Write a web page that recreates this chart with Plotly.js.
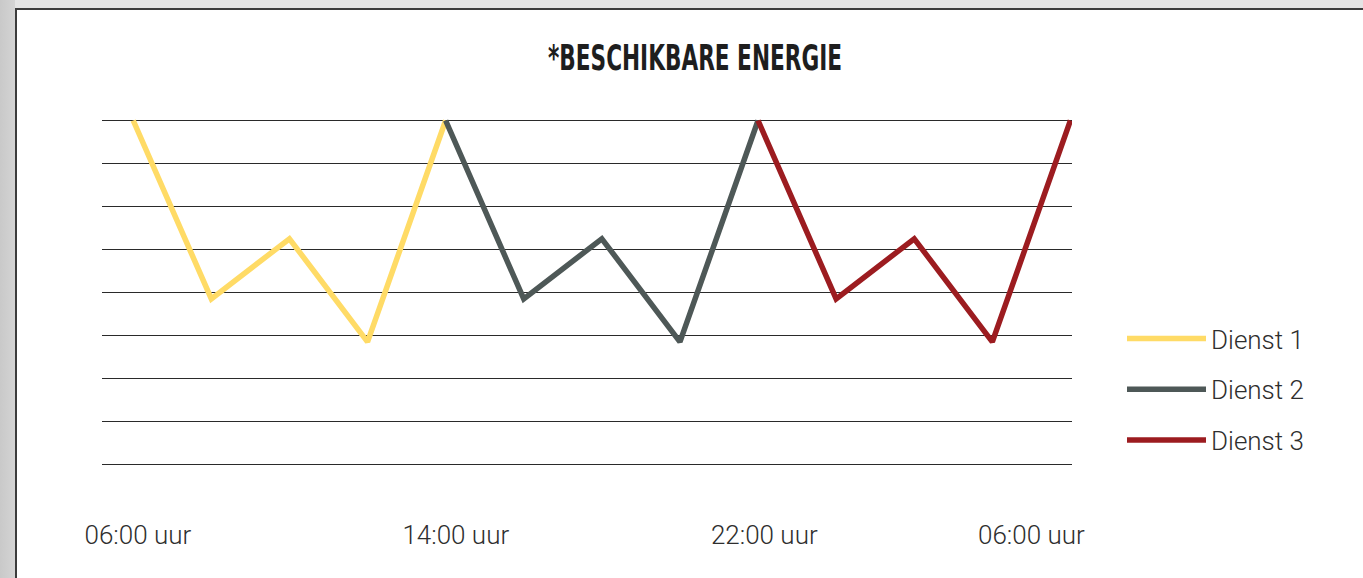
<!DOCTYPE html>
<html>
<head>
<meta charset="utf-8">
<script src="https://cdn.plot.ly/plotly-3.0.1.min.js"></script>
<style>
  html, body { margin: 0; padding: 0; width: 1363px; height: 578px; overflow: hidden; background: #e4e4e4; }
  #leftstrip { position: absolute; left: 0; top: 0; width: 15px; height: 578px; background: linear-gradient(to right, #c9c9c9, #d4d4d4); }
  #panel { position: absolute; left: 15px; top: 8px; width: 1348px; height: 570px; background: #ffffff;
           border-left: 2px solid #3c3c3c; border-top: 2px solid #3c3c3c; box-sizing: border-box; }
  #chart { position: absolute; left: 0; top: 0; width: 1363px; height: 578px; }
</style>
</head>
<body>
<div id="leftstrip"></div>
<div id="panel"></div>
<div id="chart"></div>
<script>
// ---- data ----
const seriesNames = ['Dienst 1', 'Dienst 2', 'Dienst 3'];
const dienst1X = [0, 1, 2, 3, 4];
const dienst1Y = [8, 3.85, 5.25, 2.85, 8];
const dienst2X = [4, 5, 6, 7, 8];
const dienst2Y = [8, 3.85, 5.25, 2.85, 8];
const dienst3X = [8, 9, 10, 11, 12];
const dienst3Y = [8, 3.85, 5.25, 2.85, 8];
const tickPositions = [0.06, 4.13, 8.08, 11.5];
const tickLabels = ['06:00 uur', '14:00 uur', '22:00 uur', '06:00 uur'];
const titleText = '*BESCHIKBARE ENERGIE';

// ---- styles ----
const colors = ['#FFDB66', '#4E5857', '#9C1C20'];
const xs = [dienst1X, dienst2X, dienst3X];
const ys = [dienst1Y, dienst2Y, dienst3Y];

const traces = seriesNames.map((name, i) => ({
  type: 'scatter',
  mode: 'lines',
  name: name,
  x: xs[i],
  y: ys[i],
  line: { color: colors[i], width: 5.5 },
  legendgroup: 'g' + i,
  hoverinfo: 'skip'
}));

const W = 1363, H = 578;
const textFont = { family: 'Roboto, "Liberation Sans", sans-serif', size: 26, color: '#2e2e2e', weight: 300 };
const layout = {
  width: W, height: H,
  paper_bgcolor: 'rgba(0,0,0,0)',
  plot_bgcolor: 'rgba(0,0,0,0)',
  margin: { l: 102, r: 291, t: 99, b: 92, pad: 0 },
  font: textFont,
  title: {
    text: titleText,
    font: { family: '"Liberation Sans Narrow", "DejaVu Sans Condensed", "Liberation Sans", sans-serif', size: 36, weight: 'bold', color: '#1e1e1e' },
    x: 695 / W, xanchor: 'center', xref: 'container',
    y: 1 - 57 / H, yanchor: 'middle', yref: 'container'
  },
  xaxis: {
    range: [-0.4, 12.02],
    showgrid: false, zeroline: false, showline: false,
    tickmode: 'array', tickvals: tickPositions, ticktext: tickLabels,
    ticks: 'outside', ticklen: 26, tickcolor: 'rgba(0,0,0,0)',
    tickfont: textFont,
    fixedrange: true
  },
  yaxis: {
    range: [-0.5, 8.5],
    showgrid: true, gridcolor: '#2a2a2a', gridwidth: 1.3,
    dtick: 1, tick0: 0,
    zeroline: false, showline: false, showticklabels: false, ticks: '',
    fixedrange: true
  },
  showlegend: true,
  legend: {
    x: 1122 / W, xanchor: 'left', xref: 'container',
    y: 1 - 315 / H, yanchor: 'top', yref: 'container',
    font: textFont,
    itemwidth: 79,
    traceorder: 'grouped',
    tracegroupgap: 14,
    bgcolor: 'rgba(0,0,0,0)'
  }
};

Plotly.newPlot('chart', traces, layout, { displayModeBar: false, staticPlot: true }).then(() => {
  const t = document.querySelector('.gtitle');
  if (t) {
    t.setAttribute('textLength', '294');
    t.setAttribute('lengthAdjust', 'spacingAndGlyphs');
  }
});
</script>
</body>
</html>
